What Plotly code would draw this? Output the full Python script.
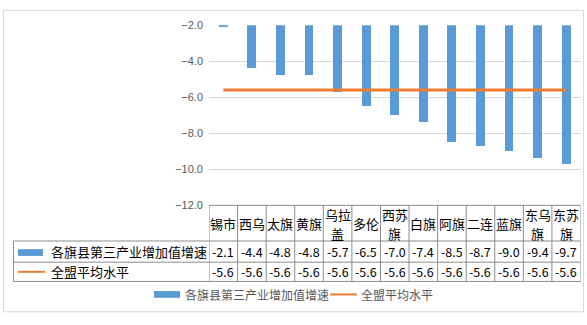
import plotly.graph_objects as go

# Growth of tertiary-industry value added by banner/county, and the league average
categories = ["锡市", "西乌", "太旗", "黄旗", "乌拉盖", "多伦", "西苏旗",
              "白旗", "阿旗", "二连", "蓝旗", "东乌旗", "东苏旗"]
growth = [-2.1, -4.4, -4.8, -4.8, -5.7, -6.5, -7.0, -7.4, -8.5, -8.7, -9.0, -9.4, -9.7]
league_avg = [-5.6] * len(categories)

series_names = ["各旗县第三产业增加值增速", "全盟平均水平"]
y_ticks = [-12, -10, -8, -6, -4, -2]

BLUE = "#5B9BD5"
ORANGE = "#ED7D31"
GRID = "#D9D9D9"
TABLE_LINE = "#8C8C8C"
AXIS_TEXT = "#595959"
CJK = "Noto Sans CJK SC"

W, H = 587, 325


def px(x):
    return x / W


def py(y):
    return 1 - y / H


fig = go.Figure()
fig.add_trace(go.Bar(x=categories, y=growth, name=series_names[0],
                     marker=dict(color=BLUE, line=dict(width=0)), width=0.31))
fig.add_trace(go.Scatter(x=categories, y=league_avg, name=series_names[1], mode="lines",
                         line=dict(color=ORANGE, width=3)))

shapes = []
annotations = []

# outer chart frame
shapes.append(dict(type="rect", xref="paper", yref="paper",
                   x0=px(3.5), x1=px(583.5), y0=py(4.5), y1=py(317.5),
                   line=dict(color=GRID, width=1)))

# data table grid
n = len(categories)
row_top, row_hdr, row_1, row_2 = 207, 244, 266, 286
left_edge = 13.5


def hline(y, x0, x0ref="paper"):
    shapes.append(dict(type="line", xref="paper", yref="paper",
                       x0=x0, x1=px(580.5), y0=py(y), y1=py(y),
                       line=dict(color=TABLE_LINE, width=1)))


hline(row_top, px(209))
for y in (row_hdr, row_1, row_2):
    hline(y, px(left_edge))

shapes.append(dict(type="line", xref="paper", yref="paper",
                   x0=px(left_edge), x1=px(left_edge), y0=py(row_hdr), y1=py(row_2),
                   line=dict(color=TABLE_LINE, width=1)))
for i in range(n + 1):
    shapes.append(dict(type="line", xref="x", yref="paper",
                       x0=i - 0.5, x1=i - 0.5, y0=py(row_top), y1=py(row_2),
                       line=dict(color=TABLE_LINE, width=1)))

# header cells: category names wrapped two characters per line
for i, name in enumerate(categories):
    lines = [name[k:k + 2] for k in range(0, len(name), 2)]
    if len(lines) == 1:
        ys = [(row_top + row_hdr) / 2]
    else:
        ys = [216, 236]
    for text, yc in zip(lines, ys):
        annotations.append(dict(x=i, y=py(yc), xref="x", yref="paper", text=text,
                                showarrow=False, xanchor="center", yanchor="middle",
                                font=dict(family=CJK, size=13, color="black")))

# value cells
for values, yc in ((growth, (row_hdr + row_1) / 2), (league_avg, (row_1 + row_2) / 2)):
    for i, v in enumerate(values):
        annotations.append(dict(x=i, y=py(yc), xref="x", yref="paper", text=f"{v:.1f}",
                                showarrow=False, xanchor="center", yanchor="middle",
                                font=dict(family=CJK, size=12.5, color="black")))

# legend keys inside the table
shapes.append(dict(type="rect", xref="paper", yref="paper",
                   x0=px(18), x1=px(43), y0=py(252.5), y1=py(259.5),
                   fillcolor=BLUE, line=dict(width=0)))
shapes.append(dict(type="line", xref="paper", yref="paper",
                   x0=px(18), x1=px(45), y0=py(276), y1=py(276),
                   line=dict(color=ORANGE, width=2)))
for name, yc in zip(series_names, ((row_hdr + row_1) / 2, (row_1 + row_2) / 2)):
    annotations.append(dict(x=px(49), y=py(yc), xref="paper", yref="paper", text=name,
                            showarrow=False, xanchor="left", yanchor="middle",
                            font=dict(family=CJK, size=13, color="black")))

# legend below the table
shapes.append(dict(type="rect", xref="paper", yref="paper",
                   x0=px(154), x1=px(180), y0=py(296), y1=py(303),
                   fillcolor=BLUE, line=dict(width=0)))
shapes.append(dict(type="line", xref="paper", yref="paper",
                   x0=px(330), x1=px(357), y0=py(299.5), y1=py(299.5),
                   line=dict(color=ORANGE, width=2)))
for name, x0 in zip(series_names, (183, 359)):
    annotations.append(dict(x=px(x0), y=py(299.5), xref="paper", yref="paper", text=name,
                            showarrow=False, xanchor="left", yanchor="middle",
                            font=dict(family=CJK, size=12, color=AXIS_TEXT)))

fig.update_layout(
    width=W, height=H,
    margin=dict(l=0, r=0, t=0, b=0),
    paper_bgcolor="white", plot_bgcolor="white",
    showlegend=False,
    bargap=0,
    xaxis=dict(domain=[px(209), px(580.5)], range=[-0.5, n - 0.5],
               showticklabels=False, showgrid=False, zeroline=False, showline=False,
               ticks="", fixedrange=True),
    yaxis=dict(domain=[py(207), py(20)], range=[-12, -2], tickvals=y_ticks,
               tickformat=".1f", showgrid=True, gridcolor=GRID, gridwidth=1,
               zeroline=False, showline=False, ticks="", ticklabelstandoff=5,
               tickfont=dict(family="Liberation Sans", size=11, color=AXIS_TEXT),
               fixedrange=True),
    shapes=shapes,
    annotations=annotations,
)

fig.write_html("out.html")
